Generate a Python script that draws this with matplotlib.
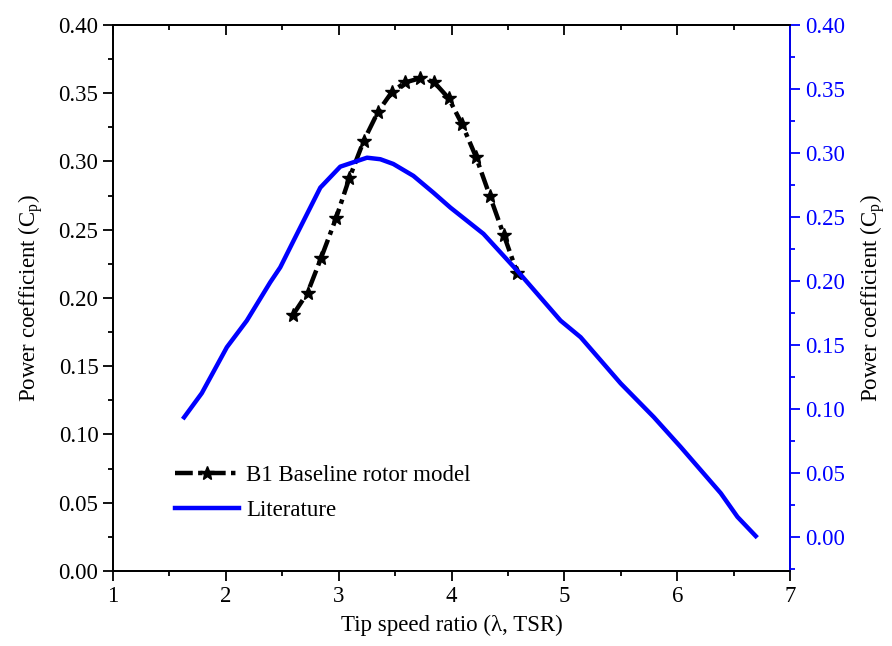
import numpy as np
import matplotlib
matplotlib.use("Agg")
import matplotlib.pyplot as plt
from matplotlib.ticker import MultipleLocator

# ==================
# Data
# ==================
# B1 baseline rotor model (left axis)
tsr_b1 = [2.594, 2.724, 2.843, 2.976, 3.094, 3.221, 3.349, 3.473, 3.591,
          3.718, 3.842, 3.975, 4.094, 4.218, 4.339, 4.463, 4.582]
cp_b1 = [0.1875, 0.2039, 0.2291, 0.2584, 0.2877, 0.3150, 0.3365, 0.3511, 0.3580,
         0.3609, 0.3585, 0.3463, 0.3272, 0.3031, 0.2749, 0.2462, 0.2185]

# Literature (right axis)
tsr_lit = [1.630, 1.787, 2.009, 2.186, 2.393, 2.482, 2.600, 2.689, 2.837, 3.014,
           3.251, 3.369, 3.484, 3.662, 3.839, 3.990, 4.283, 4.582, 4.966, 5.144,
           5.499, 5.792, 6.031, 6.386, 6.534, 6.696]
cp_lit = [0.0936, 0.1125, 0.1484, 0.1692, 0.1991, 0.2108, 0.2316, 0.2472, 0.2731,
          0.2895, 0.2965, 0.2953, 0.2916, 0.2823, 0.2692, 0.2575, 0.2370, 0.2082,
          0.1692, 0.1562, 0.1201, 0.0938, 0.0704, 0.0343, 0.0158, 0.0008]

# ==================
# Plot
# ==================
plt.rcParams['font.family'] = ['Liberation Serif', 'DejaVu Serif']
plt.rcParams['mathtext.fontset'] = 'custom'
plt.rcParams['mathtext.rm'] = 'Liberation Serif'
plt.rcParams['mathtext.it'] = 'Liberation Serif'

fs = 16.5
blue = '#0000ff'

fig = plt.figure(figsize=(8.92, 6.46), dpi=100)
ax = fig.add_axes([0.1267, 0.1161, 0.7590, 0.8452])
ax2 = ax.twinx()

l1, = ax.plot(tsr_b1, cp_b1, color='black', lw=3.2,
              linestyle=(0, (4, 1.2, 1, 1.2)), marker='*', markersize=10,
              label='B1 Baseline rotor model')
l2, = ax2.plot(tsr_lit, cp_lit, color=blue, lw=3.2, label='Literature')

ax.set_xlim(1, 7)
ax.set_ylim(0, 0.40)
ax2.set_ylim(-0.0265, 0.4002)

ax.xaxis.set_major_locator(MultipleLocator(1))
ax.xaxis.set_minor_locator(MultipleLocator(0.5))
ax.yaxis.set_major_locator(MultipleLocator(0.05))
ax.yaxis.set_minor_locator(MultipleLocator(0.025))
ax2.yaxis.set_major_locator(MultipleLocator(0.05))
ax2.yaxis.set_minor_locator(MultipleLocator(0.025))
ax.yaxis.set_major_formatter(plt.FormatStrFormatter('%.2f'))
ax2.yaxis.set_major_formatter(plt.FormatStrFormatter('%.2f'))

ax.tick_params(axis='both', which='major', direction='out', length=7, width=1.3,
               labelsize=fs, top=False, right=False)
ax.tick_params(axis='both', which='minor', direction='out', length=3.5, width=1.3,
               top=False, right=False)

# top axis: inward ticks, no labels
sec = ax.secondary_xaxis('top')
sec.xaxis.set_major_locator(MultipleLocator(1))
sec.xaxis.set_minor_locator(MultipleLocator(0.5))
sec.tick_params(which='major', direction='in', length=7, width=1.3, labeltop=False)
sec.tick_params(which='minor', direction='in', length=3.5, width=1.3)
sec.spines['top'].set_linewidth(1.3)

ax2.tick_params(axis='y', which='major', direction='out', length=7, width=1.3,
                labelsize=fs, colors=blue)
ax2.tick_params(axis='y', which='minor', direction='out', length=3.5, width=1.3,
                colors=blue)

for a in (ax, ax2):
    for s in a.spines.values():
        s.set_linewidth(1.3)
ax2.spines['right'].set_color(blue)

ax.set_xlabel('Tip speed ratio (\u03bb, TSR)', fontsize=fs, labelpad=6)
ax.set_ylabel('Power coefficient (C$_\\mathrm{p}$)', fontsize=fs, labelpad=10)
ax2.set_ylabel('Power coefficient (C$_\\mathrm{p}$)', fontsize=fs, labelpad=10,
               color='black')

ax2.legend(handles=[l1, l2], loc='lower left', bbox_to_anchor=(0.078, 0.075),
           frameon=False, fontsize=fs, handlelength=2.8, handletextpad=0.3,
           labelspacing=0.6, borderaxespad=0)

plt.savefig('out.png', dpi=100)
plt.close()
